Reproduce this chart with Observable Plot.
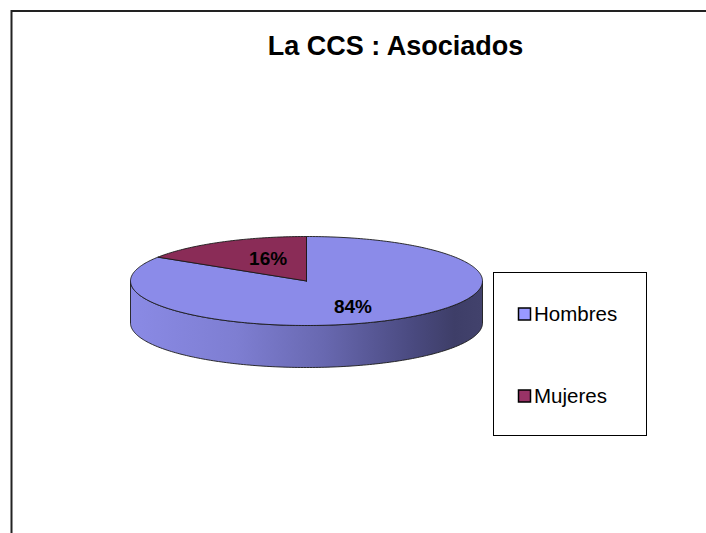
<!DOCTYPE html>
<html>
<head>
<meta charset="utf-8">
<script src="https://cdn.jsdelivr.net/npm/d3@7"></script>
<script src="https://cdn.jsdelivr.net/npm/@observablehq/plot@0.6"></script>
<style>
  html, body { margin: 0; padding: 0; background: #fff; }
  #chart svg { display: block; }
</style>
</head>
<body>
<div id="chart"></div>
<script>
// ---- Data ----
const title = "La CCS : Asociados";
const categories = ["Hombres", "Mujeres"];
const values = [84, 16];
const valueLabels = ["84%", "16%"];

// ---- Styles / layout ----
const topColors = ["#8B8BE9", "#8A2C57"];
const legendColors = ["#9999FF", "#993366"];
const W = 706, H = 533;
const cx = 306, cy = 280.5, rx = 176, ry = 44.5, depth = 42;
const outline = "#1a1a1a";

const data = categories.map((c, i) => ({category: c, value: values[i], label: valueLabels[i], i}));
const slices = d3.pie().sort(null).value(d => d.value)(data);

const P = (a, dy = 0) => ({x: cx + rx * Math.sin(a), y: cy - ry * Math.cos(a) + dy});
function arcPts(a0, a1, dy = 0) {
  const n = Math.max(2, Math.ceil(Math.abs(a1 - a0) / (2 * Math.PI) * 360));
  return d3.range(n + 1).map(k => P(a0 + (a1 - a0) * k / n, dy));
}

// top faces
const tops = slices.map(s => {
  const c = {x: cx, y: cy};
  return [c, ...arcPts(s.startAngle, s.endAngle), c];
});
// visible sides (front half: angles between pi/2 and 3pi/2)
const sides = slices.map(s => {
  const lo = Math.max(s.startAngle, Math.PI / 2), hi = Math.min(s.endAngle, 3 * Math.PI / 2);
  if (lo >= hi) return null;
  const pts = [...arcPts(hi, lo), ...arcPts(lo, hi, depth)];
  pts.push(pts[0]);
  return pts;
});
const labelPos = slices.map(s => {
  const m = (s.startAngle + s.endAngle) / 2;
  return {x: cx + rx * 0.5 * Math.sin(m), y: cy - ry * 0.62 * Math.cos(m), label: s.data.label};
});

// legend layout
const legBox = {x1: 493.5, x2: 646.5, y1: 272.5, y2: 435.5};
const legendY = [314, 396];
const legendItems = categories.map((c, i) => ({category: c, y: legendY[i], color: legendColors[i]}));

const marks = [
  Plot.frame({stroke: "#222", strokeWidth: 2, insetRight: -10, insetBottom: -10}),
  Plot.text([title], {x: () => 395, y: () => 45.5, text: d => d, fontSize: 27, fontWeight: "bold", fill: "#000"}),
];
sides.forEach((pts, i) => {
  if (pts) marks.push(Plot.line(pts, {x: "x", y: "y", fill: "url(#sideGrad)", stroke: outline, strokeWidth: 0.9, strokeLinejoin: "round"}));
});
tops.forEach((pts, i) => {
  marks.push(Plot.line(pts, {x: "x", y: "y", fill: topColors[i], stroke: outline, strokeWidth: 0.9, strokeLinejoin: "round"}));
});
marks.push(Plot.text(labelPos, {x: "x", y: "y", dx: 4, dy: 2, text: "label", fontSize: 19, fontWeight: "bold", fill: "#000"}));
// legend
marks.push(Plot.rect([legBox], {x1: "x1", x2: "x2", y1: "y1", y2: "y2", fill: "#fff", stroke: "#000", strokeWidth: 1}));
marks.push(Plot.rect(legendItems, {x1: () => 518.5, x2: () => 530.5, y1: d => d.y - 6, y2: d => d.y + 6, fill: "color", stroke: "#000", strokeWidth: 1.5}));
marks.push(Plot.text(legendItems, {x: () => 533.5, y: "y", text: "category", textAnchor: "start", fontSize: 20.5, fill: "#000"}));

const chart = Plot.plot({
  width: W, height: H,
  marginLeft: 11, marginTop: 10.5, marginRight: 0, marginBottom: 0,
  x: {type: "identity", axis: null},
  y: {type: "identity", axis: null},
  color: {type: "identity"},
  style: {fontFamily: "'Liberation Sans', Arial, sans-serif", background: "#fff"},
  marks
});

const svg = d3.select(chart);
const defs = svg.insert("defs", ":first-child");
const grad = defs.append("linearGradient").attr("id", "sideGrad")
  .attr("gradientUnits", "userSpaceOnUse")
  .attr("x1", cx - rx).attr("x2", cx + rx).attr("y1", 0).attr("y2", 0);
[[0, "#8A8AE5"], [0.3, "#7E7ED2"], [0.55, "#6868B0"], [0.8, "#4A4A80"], [0.92, "#3E3E68"], [1, "#42426C"]]
  .forEach(([o, c]) => grad.append("stop").attr("offset", o).attr("stop-color", c));

document.getElementById("chart").appendChild(chart);
</script>
</body>
</html>
